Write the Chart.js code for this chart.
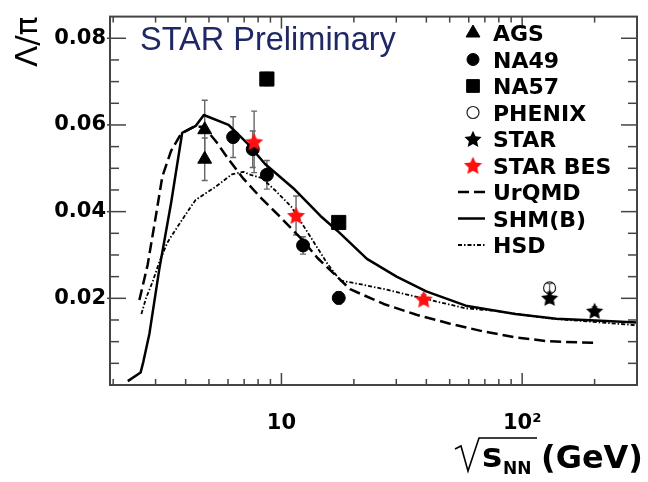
<!DOCTYPE html>
<html>
<head>
<meta charset="utf-8">
<script src="https://cdn.jsdelivr.net/npm/chart.js@4/dist/chart.umd.min.js"></script>
<style>
  html, body { margin: 0; padding: 0; background: #fff; }
  #ratio { display: block; }
</style>
</head>
<body>
<canvas id="ratio" width="648" height="482"></canvas>
<script>
// Lambda/pi ratio versus collision energy, data and model curves

// measurements: energy (GeV), ratio, vertical error
const agsEnergy = [4.8, 4.8];
const agsRatio = [0.0589, 0.0521];
const agsErr = [0.0068, 0.0049];

const na49Energy = [6.3, 7.6, 8.7, 12.3, 17.3];
const na49Ratio = [0.0572, 0.0544, 0.0485, 0.0322, 0.0201];
const na49Err = [0.0047, 0.0042, 0.0033, 0.0020, 0.0014];

const na57Energy = [8.7, 17.3];
const na57Ratio = [0.0706, 0.0375];
const na57Err = [0.0015, 0.0010];

const phenixEnergy = [130];
const phenixRatio = [0.0224];
const phenixErr = [0.0010];

const starEnergy = [130, 200];
const starRatio = [0.0201, 0.0171];
const starErr = [0.0012, 0.0009];

const besEnergy = [7.7, 11.5, 39];
const besRatio = [0.0561, 0.0391, 0.0198];
const besErr = [0.0071, 0.0045, 0.0010];

// model curves
const urqmdEnergy = [2.57, 2.78, 2.99, 3.20, 3.48, 3.83, 4.33, 4.76, 5.38, 6.03, 6.95, 8.24, 9.95, 12.25, 14.12, 19.29, 26.6, 36.4, 49.7, 68.5, 93.6, 128, 203];
const urqmdRatio = [0.0196, 0.0277, 0.0381, 0.0481, 0.0540, 0.0580, 0.0596, 0.0596, 0.0560, 0.0521, 0.0476, 0.0431, 0.0386, 0.0334, 0.0293, 0.0221, 0.0187, 0.0162, 0.0142, 0.0124, 0.0110, 0.0101, 0.0097];

const shmEnergy = [2.30, 2.60, 2.67, 2.83, 3.11, 3.48, 3.87, 4.41, 4.76, 6.03, 7.29, 8.55, 11.36, 14.53, 17.06, 22.66, 30.09, 39.96, 58.33, 93.6, 138.6, 202, 303];
const shmRatio = [0.0009, 0.0029, 0.0054, 0.0119, 0.0268, 0.0420, 0.0582, 0.0598, 0.0623, 0.0600, 0.0555, 0.0510, 0.0451, 0.0390, 0.0356, 0.0291, 0.0250, 0.0216, 0.0183, 0.0164, 0.0153, 0.0149, 0.0144];

const hsdEnergy = [2.62, 2.74, 2.92, 3.11, 3.36, 3.64, 4.13, 4.40, 5.32, 6.22, 6.95, 7.52, 8.26, 9.38, 10.97, 12.85, 15.52, 17.55, 20.6, 27.4, 40.0, 58.3, 77.5, 132, 299];
const hsdRatio = [0.0164, 0.0201, 0.0239, 0.0284, 0.0329, 0.0359, 0.0405, 0.0427, 0.0457, 0.0486, 0.0492, 0.0484, 0.0478, 0.0450, 0.0412, 0.0352, 0.0280, 0.0241, 0.0234, 0.0220, 0.0198, 0.0177, 0.0171, 0.0153, 0.0138];

// axis ticks
const xLabelValues = [10, 100];
const xLabels = ['10', '10²'];
const xMinorTicks = [2, 3, 4, 5, 6, 7, 8, 9, 20, 30, 40, 50, 60, 70, 80, 90, 200];
const yMajorTicks = [0.02, 0.04, 0.06, 0.08];
const yMinorTicks = [0.005, 0.01, 0.015, 0.025, 0.03, 0.035, 0.045, 0.05, 0.055, 0.065, 0.07, 0.075];

const pts = (xs, ys) => xs.map((v, i) => ({ x: v, y: ys[i] }));

function starMarker(color, size) {
  const c = document.createElement('canvas');
  c.width = c.height = size;
  const g = c.getContext('2d');
  const r = size / 2, ri = r * 0.48;
  g.beginPath();
  for (let k = 0; k < 10; k++) {
    const a = -Math.PI / 2 + k * Math.PI / 5;
    const rr = k % 2 ? ri : r;
    g.lineTo(r + rr * Math.cos(a), r + rr * Math.sin(a) + 0.8);
  }
  g.closePath();
  g.fillStyle = color;
  g.fill();
  return c;
}

const redStar = starMarker('#ff1010', 19);
const blackStar = starMarker('#000', 18);

const boldFont = 'DejaVu Sans';

// vertical error bars with small caps
const errorBars = {
  id: 'errorBars',
  beforeDatasetsDraw(chart) {
    const { ctx, scales: { x, y } } = chart;
    ctx.save();
    ctx.strokeStyle = '#666';
    ctx.lineWidth = 1.4;
    chart.data.datasets.forEach(ds => {
      if (!ds.errors) return;
      ds.data.forEach((p, i) => {
        const px = x.getPixelForValue(p.x);
        const hi = y.getPixelForValue(p.y + ds.errors[i]);
        const lo = y.getPixelForValue(p.y - ds.errors[i]);
        ctx.beginPath();
        ctx.moveTo(px, hi); ctx.lineTo(px, lo);
        ctx.moveTo(px - 3, hi); ctx.lineTo(px + 3, hi);
        ctx.moveTo(px - 3, lo); ctx.lineTo(px + 3, lo);
        ctx.stroke();
      });
    });
    ctx.restore();
  }
};

// box frame with inward ticks on all four sides
const frame = {
  id: 'frame',
  afterDraw(chart) {
    const { ctx, chartArea: a, scales: { x, y } } = chart;
    ctx.save();
    ctx.strokeStyle = '#444';
    ctx.lineWidth = 1.5;
    const seg = (x1, y1, x2, y2) => { ctx.beginPath(); ctx.moveTo(x1, y1); ctx.lineTo(x2, y2); ctx.stroke(); };
    xMinorTicks.forEach(v => {
      const px = x.getPixelForValue(v);
      seg(px, a.bottom, px, a.bottom - 6);
      seg(px, a.top, px, a.top + 6);
    });
    xLabelValues.forEach(v => {
      const px = x.getPixelForValue(v);
      seg(px, a.bottom, px, a.bottom - 12);
      seg(px, a.top, px, a.top + 12);
    });
    yMinorTicks.forEach(v => {
      const py = y.getPixelForValue(v);
      seg(a.left, py, a.left + 9, py);
      seg(a.right, py, a.right - 9, py);
    });
    yMajorTicks.forEach(v => {
      const py = y.getPixelForValue(v);
      seg(a.left - 3, py, a.left + 16, py);
      seg(a.right, py, a.right - 16, py);
    });
    ctx.lineWidth = 2;
    ctx.strokeRect(a.left, a.top, a.right - a.left, a.bottom - a.top);
    ctx.restore();
  }
};

// legend box in the upper right, label text and the x axis title
const annotations = {
  id: 'annotations',
  afterDraw(chart) {
    const { ctx } = chart;
    ctx.save();

    ctx.fillStyle = '#1f2864';
    ctx.font = '32.5px "Liberation Sans"';
    ctx.textBaseline = 'alphabetic';
    ctx.fillText('STAR Preliminary', 140, 50);

    const mx = 473, tx = 493, y0 = 33, dy = 26.5;
    chart.data.datasets.forEach((ds, i) => {
      const cy = y0 + i * dy;
      if (ds.showLine) {
        ctx.strokeStyle = ds.borderColor;
        ctx.lineWidth = ds.borderWidth;
        ctx.setLineDash(ds.borderDash || []);
        ctx.beginPath();
        ctx.moveTo(mx - 15, cy); ctx.lineTo(mx + 12, cy);
        ctx.stroke();
        ctx.setLineDash([]);
      } else {
        const style = ds.pointStyle;
        if (style instanceof HTMLCanvasElement) {
          ctx.drawImage(style, mx - style.width / 2, cy - style.height / 2);
        } else {
          ctx.fillStyle = ds.backgroundColor;
          ctx.strokeStyle = ds.borderColor;
          ctx.lineWidth = ds.borderWidth;
          Chart.helpers.drawPoint(ctx, {
            pointStyle: style, radius: ds.legendRadius || ds.pointRadius,
            borderWidth: ds.borderWidth, rotation: 0
          }, mx, cy);
        }
      }
      ctx.fillStyle = '#000';
      ctx.font = 'bold 22px "' + boldFont + '"';
      ctx.fillText(ds.label, tx, cy + 8);
    });

    // sqrt(s_NN) (GeV)
    ctx.strokeStyle = '#000';
    ctx.lineWidth = 1.6;
    ctx.beginPath();
    ctx.moveTo(455, 449); ctx.lineTo(461, 446); ctx.lineTo(468, 471); ctx.lineTo(479, 438); ctx.lineTo(537, 438);
    ctx.stroke();
    ctx.fillStyle = '#000';
    ctx.font = 'bold 34px "' + boldFont + '"';
    ctx.fillText('s', 482, 467);
    ctx.font = 'bold 17px "' + boldFont + '"';
    ctx.fillText('NN', 503, 474);
    ctx.font = 'bold 32px "' + boldFont + '"';
    ctx.fillText('(GeV)', 541, 468);
    ctx.restore();
  }
};

const marker = (label, xs, ys, errs, style, radius, extra) => Object.assign({
  type: 'scatter', label, data: pts(xs, ys), errors: errs,
  pointStyle: style, pointRadius: radius, pointHoverRadius: radius,
  backgroundColor: '#000', borderColor: '#000', borderWidth: 1, order: 1
}, extra || {});

const curve = (label, xs, ys, width, dash) => ({
  type: 'line', label, data: pts(xs, ys), showLine: true,
  borderColor: '#000', borderWidth: width, borderDash: dash,
  pointRadius: 0, tension: 0, borderJoinStyle: 'round', fill: false, order: 5
});

new Chart(document.getElementById('ratio'), {
  type: 'scatter',
  data: {
    datasets: [
      marker('AGS', agsEnergy, agsRatio, agsErr, 'triangle', 8),
      marker('NA49', na49Energy, na49Ratio, na49Err, 'circle', 6.5, { legendRadius: 6 }),
      marker('NA57', na57Energy, na57Ratio, na57Err, 'rect', 10, { legendRadius: 9 }),
      marker('PHENIX', phenixEnergy, phenixRatio, phenixErr, 'circle', 6,
        { backgroundColor: 'rgba(0,0,0,0)', borderColor: '#222', borderWidth: 1.2, order: 2 }),
      marker('STAR', starEnergy, starRatio, starErr, blackStar, 9),
      marker('STAR BES', besEnergy, besRatio, besErr, redStar, 9, { order: 0 }),
      curve('UrQMD', urqmdEnergy, urqmdRatio, 2.5, [11, 5]),
      curve('SHM(B)', shmEnergy, shmRatio, 2.5, []),
      curve('HSD', hsdEnergy, hsdRatio, 1.8, [4, 2, 1.5, 2])
    ]
  },
  options: {
    responsive: false,
    animation: false,
    events: [],
    layout: { padding: { top: 9, right: 5, left: 0, bottom: 0 } },
    plugins: { legend: { display: false }, tooltip: { enabled: false } },
    scales: {
      x: {
        type: 'logarithmic',
        min: 1.94,
        max: 300,
        grid: { display: false, drawTicks: false },
        border: { display: false },
        afterBuildTicks: s => { s.ticks = xLabelValues.map(v => ({ value: v })); },
        afterFit: s => { s.height = 97; },
        ticks: {
          autoSkip: false,
          maxRotation: 0,
          padding: 26,
          color: '#000',
          font: { family: boldFont, size: 21, weight: 'bold' },
          callback: v => xLabels[xLabelValues.indexOf(v)]
        }
      },
      y: {
        min: 0,
        max: 0.085,
        grid: { display: false, drawTicks: false },
        border: { display: false },
        afterBuildTicks: s => { s.ticks = yMajorTicks.map(v => ({ value: v })); },
        afterFit: s => { s.width = 110; },
        ticks: {
          padding: 4,
          color: '#000',
          font: { family: boldFont, size: 21, weight: 'bold' },
          callback: v => v.toFixed(2)
        },
        title: {
          display: true,
          text: 'Λ/π',
          align: 'end',
          color: '#000',
          padding: { top: 10, bottom: 0 },
          font: { family: 'DejaVu Sans', size: 31 }
        }
      }
    }
  },
  plugins: [errorBars, frame, annotations]
});
</script>
</body>
</html>
